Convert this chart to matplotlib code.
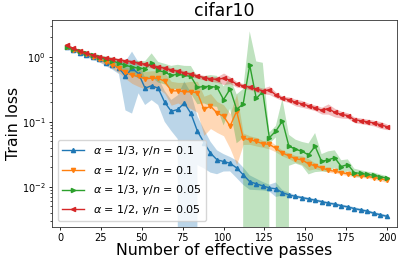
import numpy as np
import matplotlib
matplotlib.use("Agg")
import matplotlib.pyplot as plt

# effective passes (every 4)
passes = np.arange(4, 201, 4)

# train loss, mean over runs
loss_a13_g01 = [1.42, 1.28, 1.16, 1.06, 0.98, 0.92, 0.82, 0.75, 0.68, 0.50,
                0.67, 0.55, 0.33, 0.36, 0.33, 0.20, 0.145, 0.155, 0.195, 0.135,
                0.072, 0.048, 0.033, 0.026, 0.0245, 0.023, 0.0195, 0.0153, 0.012, 0.0111,
                0.0103, 0.0096, 0.0093, 0.0081, 0.0075, 0.0071, 0.0068, 0.0065, 0.0062, 0.0059,
                0.0056, 0.0054, 0.0051, 0.0049, 0.0046, 0.0044, 0.0042, 0.0039, 0.0037, 0.0035]
loss_a12_g01 = [1.40, 1.28, 1.18, 1.09, 1.00, 0.92, 0.84, 0.76, 0.67, 0.58,
                0.52, 0.50, 0.46, 0.47, 0.47, 0.42, 0.30, 0.30, 0.29, 0.29,
                0.28, 0.155, 0.175, 0.137, 0.122, 0.086, 0.146, 0.056, 0.053, 0.050,
                0.046, 0.045, 0.039, 0.033, 0.030, 0.027, 0.026, 0.0225, 0.021, 0.0195,
                0.018, 0.0173, 0.0165, 0.0158, 0.0152, 0.0148, 0.0145, 0.0138, 0.0133, 0.0125]
loss_a13_g005 = [1.42, 1.32, 1.22, 1.13, 1.06, 0.99, 0.92, 0.87, 0.80, 0.74,
                 0.70, 0.67, 0.66, 0.81, 0.62, 0.58, 0.52, 0.54, 0.52, 0.50,
                 0.34, 0.35, 0.35, 0.34, 0.22, 0.32, 0.156, 0.188, 0.75, 0.23,
                 0.29, 0.057, 0.072, 0.103, 0.042, 0.038, 0.035, 0.031, 0.042, 0.0245,
                 0.026, 0.028, 0.0205, 0.022, 0.0165, 0.016, 0.0155, 0.015, 0.0143, 0.0135]
loss_a12_g005 = [1.50, 1.36, 1.25, 1.15, 1.07, 1.01, 0.96, 0.93, 0.90, 0.87,
                 0.84, 0.80, 0.77, 0.73, 0.70, 0.67, 0.63, 0.60, 0.57, 0.54,
                 0.51, 0.48, 0.46, 0.45, 0.47, 0.44, 0.38, 0.36, 0.34, 0.32,
                 0.30, 0.31, 0.26, 0.23, 0.22, 0.20, 0.19, 0.176, 0.165, 0.15,
                 0.16, 0.14, 0.13, 0.125, 0.108, 0.104, 0.10, 0.096, 0.09, 0.084]

# std over runs, as a fraction of the mean
std_a13_g01 = [0.05, 0.05, 0.06, 0.07, 0.08, 0.10, 0.12, 0.15, 0.20, 0.70,
               0.80, 0.50, 0.45, 0.40, 0.45, 0.50, 0.50, 0.65, 1.15, 1.10,
               0.70, 0.60, 0.50, 0.40, 0.30, 0.25, 0.30, 0.30, 0.25, 0.20,
               0.15, 0.12, 0.25, 0.10, 0.08, 0.05, 0.05, 0.05, 0.05, 0.05,
               0.05, 0.05, 0.05, 0.05, 0.05, 0.05, 0.05, 0.05, 0.05, 0.05]
std_a12_g01 = [0.04, 0.05, 0.05, 0.06, 0.07, 0.08, 0.10, 0.12, 0.15, 0.20,
               0.25, 0.30, 0.30, 0.30, 0.30, 0.35, 0.40, 0.35, 0.40, 0.45,
               0.50, 0.60, 0.55, 0.50, 0.50, 0.55, 0.85, 0.20, 0.15, 0.15,
               0.12, 0.15, 0.12, 0.10, 0.10, 0.12, 0.15, 0.20, 0.10, 0.08,
               0.07, 0.06, 0.06, 0.06, 0.06, 0.06, 0.06, 0.07, 0.07, 0.07]
std_a13_g005 = [0.04, 0.05, 0.05, 0.06, 0.07, 0.08, 0.10, 0.12, 0.15, 0.20,
                0.25, 0.30, 0.30, 0.40, 0.35, 0.35, 0.40, 0.40, 0.40, 0.45,
                0.45, 0.45, 0.50, 0.50, 0.60, 0.50, 0.70, 0.70, 2.30, 2.70,
                1.80, 0.20, 0.20, 1.20, 0.50, 0.40, 0.40, 0.50, 0.60, 0.30,
                0.35, 0.30, 0.25, 0.20, 0.15, 0.12, 0.10, 0.10, 0.08, 0.08]
std_a12_g005 = [0.04, 0.04, 0.05, 0.05, 0.05, 0.05, 0.06, 0.06, 0.06, 0.06,
                0.07, 0.07, 0.07, 0.08, 0.08, 0.08, 0.08, 0.08, 0.08, 0.08,
                0.08, 0.08, 0.08, 0.10, 0.20, 0.12, 0.10, 0.08, 0.08, 0.10,
                0.10, 0.15, 0.10, 0.08, 0.10, 0.12, 0.12, 0.10, 0.10, 0.12,
                0.18, 0.15, 0.12, 0.10, 0.10, 0.10, 0.10, 0.10, 0.12, 0.10]

labels = [r"$\alpha$ = 1/3, $\gamma/n$ = 0.1",
          r"$\alpha$ = 1/2, $\gamma/n$ = 0.1",
          r"$\alpha$ = 1/3, $\gamma/n$ = 0.05",
          r"$\alpha$ = 1/2, $\gamma/n$ = 0.05"]
means = [loss_a13_g01, loss_a12_g01, loss_a13_g005, loss_a12_g005]
stds = [std_a13_g01, std_a12_g01, std_a13_g005, std_a12_g005]
markers = ["^", "v", ">", "<"]
colors = ["C0", "C1", "C2", "C3"]

fig = plt.figure(figsize=(4.07, 2.6), dpi=100)
ax = fig.add_axes([0.128, 0.127, 0.847, 0.796])

for m, s, mk, c, lab in zip(means, stds, markers, colors, labels):
    m = np.array(m)
    s = np.array(s) * m
    ax.fill_between(passes, m - s, m + s, color=c, alpha=0.3, linewidth=0)
    ax.plot(passes, m, color=c, marker=mk, markersize=3, linewidth=1, label=lab)

ax.set_yscale("log")
ax.set_xlim(-4.9, 206)
ax.set_ylim(2.4e-3, 3.7)
ax.set_xticks([0, 25, 50, 75, 100, 125, 150, 175, 200])
ax.tick_params(labelsize=7, width=0.6, length=2.5, pad=2)
ax.tick_params(which="minor", width=0.5, length=1.6)
for sp in ax.spines.values():
    sp.set_linewidth(0.6)
    sp.set_color("#333333")

ax.set_title("cifar10", fontsize=12.5, pad=3)
ax.set_xlabel("Number of effective passes", fontsize=11.3, labelpad=0)
ax.set_ylabel("Train loss", fontsize=11.3, labelpad=1)
ax.legend(loc="lower left", fontsize=8)

plt.savefig("out.png", dpi=100)
